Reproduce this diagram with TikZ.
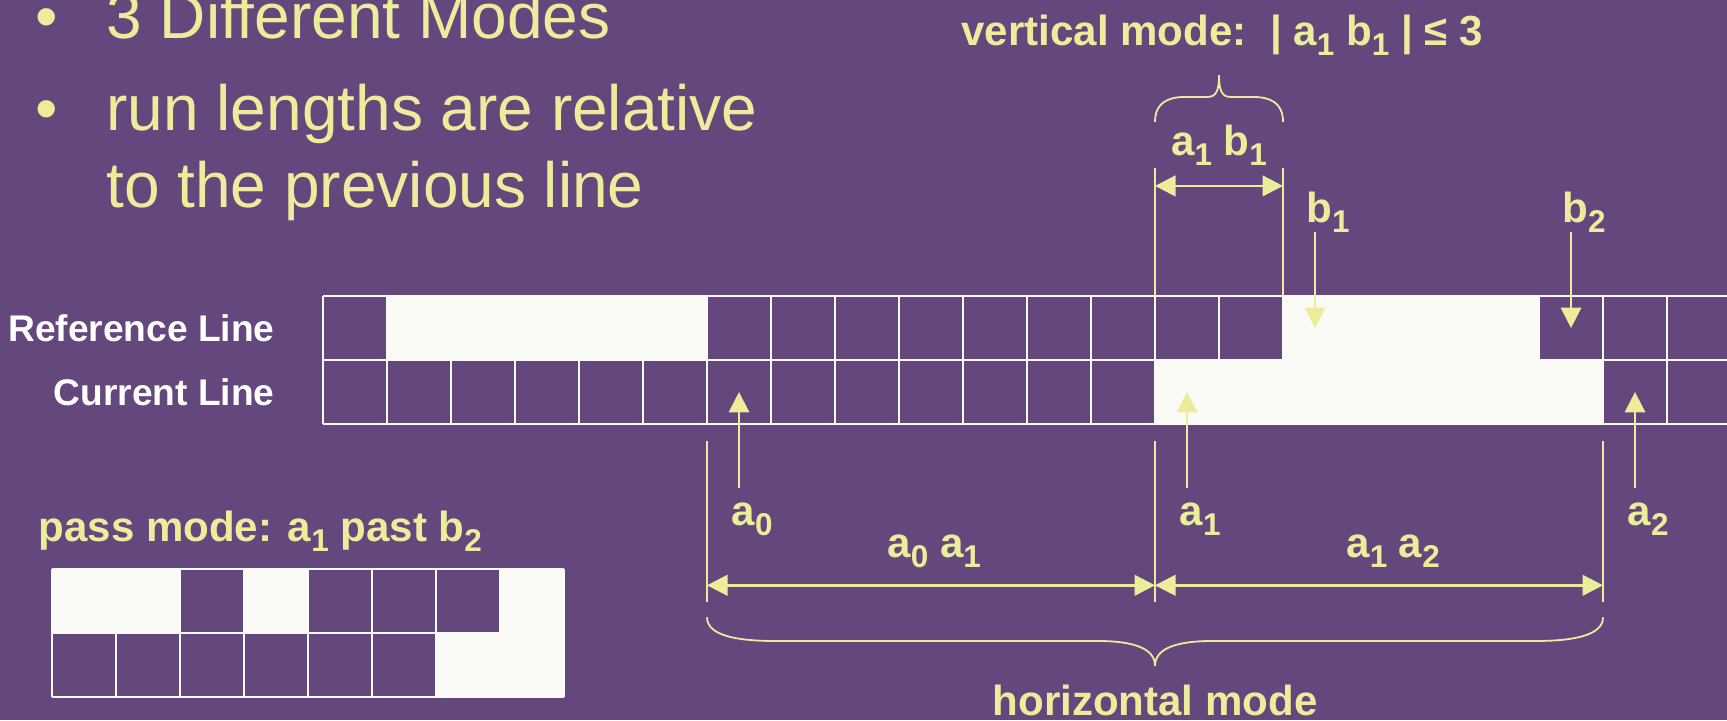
\documentclass[tikz,border=0pt]{standalone}
\usepackage{fontspec}
\setmainfont{Liberation Sans}
\usetikzlibrary{arrows.meta}

\definecolor{slidepurple}{RGB}{100, 71, 125}
\definecolor{chalkyellow}{RGB}{235, 237, 155}
\definecolor{paperwhite}{RGB}{250, 250, 247}

\newcommand{\lowix}[1]{\raisebox{-0.24em}{\fontsize{14}{14}\selectfont #1}}

\begin{document}
\begin{tikzpicture}[
    >={Triangle[length=0.32cm, width=0.32cm]},
    ptrline/.style={->, draw=chalkyellow, line width=0.9pt},
    dimline/.style={<->, draw=chalkyellow, line width=1.2pt},
    extline/.style={draw=chalkyellow, line width=0.8pt},
    braceline/.style={draw=chalkyellow, line width=0.8pt},
    gridline/.style={draw=paperwhite, line width=0.9pt},
    modelabel/.style={text=chalkyellow, font=\bfseries\fontsize{18.7}{22}\selectfont, inner sep=0pt},
    rowlabel/.style={text=white, font=\bfseries\fontsize{16.5}{20}\selectfont, inner sep=0pt, anchor=east},
    bulletline/.style={text=chalkyellow, font=\fontsize{28.45}{34}\selectfont, inner sep=0pt, anchor=base west}
  ]
    % Slide background
    \useasboundingbox[fill=slidepurple] (-5.047,-4.625) rectangle (21.937,6.625);

    % Bullet points
    \node[bulletline] (dot1) at (-4.505,6.02) {•};
    \node[bulletline] (modes) at (-3.39,6.02) {3 Different Modes};
    \node[bulletline] (dot2) at (-4.505,4.58) {•};
    \node[bulletline] (runs) at (-3.39,4.58) {run lengths are relative};
    \node[bulletline] (prev) at (-3.39,3.39) {to the previous line};

    % Reference line and current line
    \foreach \i in {1,2,3,4,5,15,16,17,18}
      \fill[paperwhite] (\i,1) rectangle ++(1,1);
    \foreach \i in {13,14,15,16,17,18,19}
      \fill[paperwhite] (\i,0) rectangle ++(1,1);
    \draw[gridline] (0,0) grid (22,2);
    \node[rowlabel] (refline) at (-0.75,1.5) {Reference Line};
    \node[rowlabel] (curline) at (-0.75,0.5) {Current Line};

    % Changing elements b1, b2 on the reference line
    \coordinate (b1) at (15.5,1.5);
    \coordinate (b1s) at (15.5,3);
    \coordinate (b2) at (19.5,1.5);
    \coordinate (b2s) at (19.5,3);
    \draw[ptrline] (b1s) -- (b1);
    \draw[ptrline] (b2s) -- (b2);
    \node[modelabel, anchor=base west] (b1lab) at (15.36,3.15) {b\lowix{1}};
    \node[modelabel, anchor=base west] (b2lab) at (19.36,3.15) {b\lowix{2}};

    % Changing elements a0, a1, a2 on the current line
    \coordinate (a0) at (6.5,0.5);
    \coordinate (a0s) at (6.5,-1);
    \coordinate (a1) at (13.5,0.5);
    \coordinate (a1s) at (13.5,-1);
    \coordinate (a2) at (20.5,0.5);
    \coordinate (a2s) at (20.5,-1);
    \draw[ptrline] (a0s) -- (a0);
    \draw[ptrline] (a1s) -- (a1);
    \draw[ptrline] (a2s) -- (a2);
    \node[modelabel, anchor=base west] (a0lab) at (6.38,-1.58) {a\lowix{0}};
    \node[modelabel, anchor=base west] (a1lab) at (13.38,-1.58) {a\lowix{1}};
    \node[modelabel, anchor=base west] (a2lab) at (20.38,-1.58) {a\lowix{2}};

    % Vertical mode
    \coordinate (v0) at (13,2);
    \coordinate (v0t) at (13,4);
    \coordinate (v1) at (15,2);
    \coordinate (v1t) at (15,4);
    \draw[extline] (v0) -- (v0t);
    \draw[extline] (v1) -- (v1t);
    \draw[dimline] (13,3.72) -- (15,3.72);
    \node[modelabel, anchor=base] (ablab) at (14,4.19) {a\lowix{1} b\lowix{1}};
    \draw[braceline] (13,4.72) .. controls (13,5.02) and (13.2,5.11) .. (13.47,5.11)
      -- (13.82,5.11) .. controls (13.96,5.11) and (14,5.22) .. (14,5.45)
      .. controls (14,5.22) and (14.04,5.11) .. (14.18,5.11)
      -- (14.53,5.11) .. controls (14.8,5.11) and (15,5.02) .. (15,4.72);
    \node[modelabel, anchor=base west] (vmode) at (9.97,5.92)
      {vertical mode:\ \ | a\lowix{1} b\lowix{1} | ≤ 3};

    % Horizontal mode
    \coordinate (h0) at (6,-0.27);
    \coordinate (h0b) at (6,-2.78);
    \coordinate (h1) at (13,-0.27);
    \coordinate (h1b) at (13,-2.78);
    \coordinate (h2) at (20,-0.27);
    \coordinate (h2b) at (20,-2.78);
    \draw[extline] (h0) -- (h0b);
    \draw[extline] (h1) -- (h1b);
    \draw[extline] (h2) -- (h2b);
    \draw[dimline] (6,-2.52) -- (13,-2.52);
    \draw[dimline] (13,-2.52) -- (20,-2.52);
    \node[modelabel, anchor=base] (aalab) at (9.55,-2.08) {a\lowix{0} a\lowix{1}};
    \node[modelabel, anchor=base] (bblab) at (16.72,-2.08) {a\lowix{1} a\lowix{2}};
    \draw[braceline] (6,-3.02) .. controls (6,-3.3) and (6.45,-3.39) .. (7.05,-3.39)
      -- (12.1,-3.39) .. controls (12.7,-3.39) and (13,-3.52) .. (13,-3.78)
      .. controls (13,-3.52) and (13.3,-3.39) .. (13.9,-3.39)
      -- (18.95,-3.39) .. controls (19.55,-3.39) and (20,-3.3) .. (20,-3.02);
    \node[modelabel, anchor=base] (hmode) at (13,-4.55) {horizontal mode};

    % Pass mode
    \node[modelabel, anchor=base west] (pmode) at (-4.45,-1.83) {pass mode: a\lowix{1} past b\lowix{2}};
    \begin{scope}[shift={(-4.235,-4.27)}]
      \foreach \i in {0,1,3,7}
        \fill[paperwhite] (\i,1) rectangle ++(1,1);
      \foreach \i in {6,7}
        \fill[paperwhite] (\i,0) rectangle ++(1,1);
      \draw[gridline] (0,0) grid (8,2);
    \end{scope}
\end{tikzpicture}
\end{document}
